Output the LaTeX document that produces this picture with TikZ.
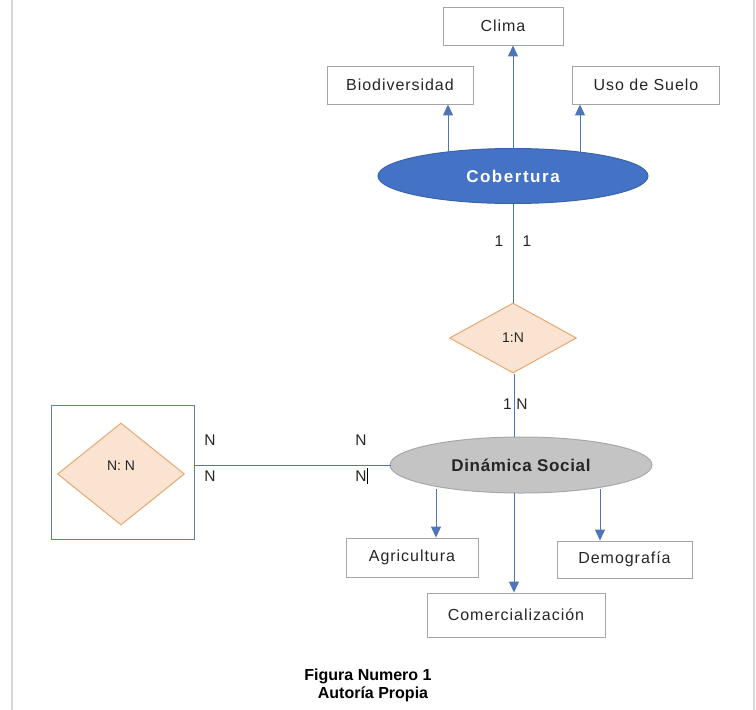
\documentclass[tikz,border=0pt]{standalone}
\usepackage{fontspec}
\setmainfont{Liberation Sans}
\newfontfamily\spacedA[LetterSpace=6]{Liberation Sans}
\newfontfamily\spacedB[LetterSpace=9]{Liberation Sans}
\newfontfamily\spacedC[LetterSpace=4]{Liberation Sans}
\usetikzlibrary{shapes.geometric,arrows.meta}
\definecolor{boxline}{HTML}{A6A6A6}
\definecolor{conn}{HTML}{4F75B8}
\definecolor{cobfill}{HTML}{4472C4}
\definecolor{cobline}{HTML}{3A63AE}
\definecolor{dinfill}{HTML}{C4C4C4}
\definecolor{dinline}{HTML}{A8A8A8}
\definecolor{relfill}{HTML}{FBE3D2}
\definecolor{relline}{HTML}{E8A872}
\definecolor{sqline}{HTML}{5F7FA3}
\definecolor{frame}{HTML}{D8D8D8}
\tikzset{
  x=1pt, y=-1pt,
  attr/.style={draw=boxline, line width=0.9pt, fill=white, inner sep=0pt, font=\spacedA\fontsize{16}{18}\selectfont, text=black!85},
  ent/.style={ellipse, line width=1pt, inner sep=0pt},
  rel/.style={diamond, draw=relline, fill=relfill, line width=1pt, inner sep=0pt, font=\fontsize{14}{16}\selectfont, text=black!85},
  conline/.style={draw=conn, line width=1pt},
  arr/.style={conline, -{Triangle[width=10pt,length=11pt]}},
  card/.style={font=\fontsize{15.5}{17}\selectfont, inner sep=0pt, text=black!85},
}
\begin{document}
\begin{tikzpicture}
\useasboundingbox (0,0) rectangle (756,710);
\fill[white] (0,0) rectangle (756,710);
\draw[frame, line width=1.5pt] (12,0) -- (12,710);
\draw[frame, line width=1.5pt] (754,0) -- (754,710);

% attribute boxes
\node[attr, minimum width=120, minimum height=38] (clima) at (503,26) {Clima};
\node[attr, minimum width=146, minimum height=38] (bio) at (400,85) {Biodiversidad};
\node[attr, minimum width=147, minimum height=38] (uso) at (646,85) {Uso de Suelo};

% entities
\node[ent, fill=cobfill, draw=cobline, text=white, minimum width=270, minimum height=55, font=\spacedB\bfseries\fontsize{17}{19}\selectfont] (cob) at (513,176) {Cobertura};
\node[ent, fill=dinfill, draw=dinline, text=black!85, minimum width=262, minimum height=56, font=\spacedC\bfseries\fontsize{17}{19}\selectfont] (din) at (521,465) {Dinámica Social};

% relationships
\node[rel, minimum width=127, minimum height=70] (r1n) at (513,338) {1:N};
\node[draw=sqline, line width=1pt, minimum width=143, minimum height=134, inner sep=0pt] (sq) at (122.5,472) {};
\node[rel, minimum width=127, minimum height=102] (rnn) at (121,474) {};
\node[font=\fontsize{14}{16}\selectfont, inner sep=0pt, text=black!85] (rnnt) at (121,466) {N: N};

% lower attribute boxes
\node[attr, minimum width=132, minimum height=39] (agri) at (412,557.5) {Agricultura};
\node[attr, minimum width=135, minimum height=37] (demo) at (624.5,559.5) {Demografía};
\node[attr, minimum width=178, minimum height=44] (comer) at (516,615) {Comercialización};

% arrows up from Cobertura
\coordinate (cb1) at (448,152);
\coordinate (cb2) at (513,149);
\coordinate (cb3) at (580,152);
\draw[arr] (cb1) -- (bio.south -| cb1);
\draw[arr] (cb2) -- (clima.south -| cb2);
\draw[arr] (cb3) -- (uso.south -| cb3);

% vertical links
\draw[conline] (cob.south) -- (r1n.north);
\coordinate (dtop) at (514,437);
\draw[conline] (r1n.south -| dtop) -- (dtop);

% horizontal link
\coordinate (dleft) at (391,465);
\draw[conline] (sq.east |- dleft) -- (dleft);

% arrows down from Dinamica Social
\coordinate (db1) at (436,489);
\coordinate (db2) at (514,493);
\coordinate (db3) at (600,489);
\draw[arr] (db1) -- (agri.north -| db1);
\draw[arr] (db2) -- (comer.north -| db2);
\draw[arr] (db3) -- (demo.north -| db3);

% cardinalities
\node[card] (c1) at (499,241) {1};
\node[card] (c2) at (527,241) {1};
\node[card] (c3) at (507.5,404) {1};
\node[card] (c4) at (522,404) {N};
\node[card] (c5) at (210,440) {N};
\node[card] (c6) at (210,476) {N};
\node[card] (c7) at (361,440) {N};
\node[card] (c8) at (361,476) {N};
\draw[black, line width=0.8pt] (367.5,468) -- (367.5,484);

% caption
\node[font=\bfseries\fontsize{16}{17}\selectfont, inner sep=0pt] (cap1) at (368,676) {Figura Numero 1};
\node[font=\bfseries\fontsize{16}{17}\selectfont, inner sep=0pt] (cap2) at (373,694) {Autoría Propia};
\end{tikzpicture}
\end{document}
